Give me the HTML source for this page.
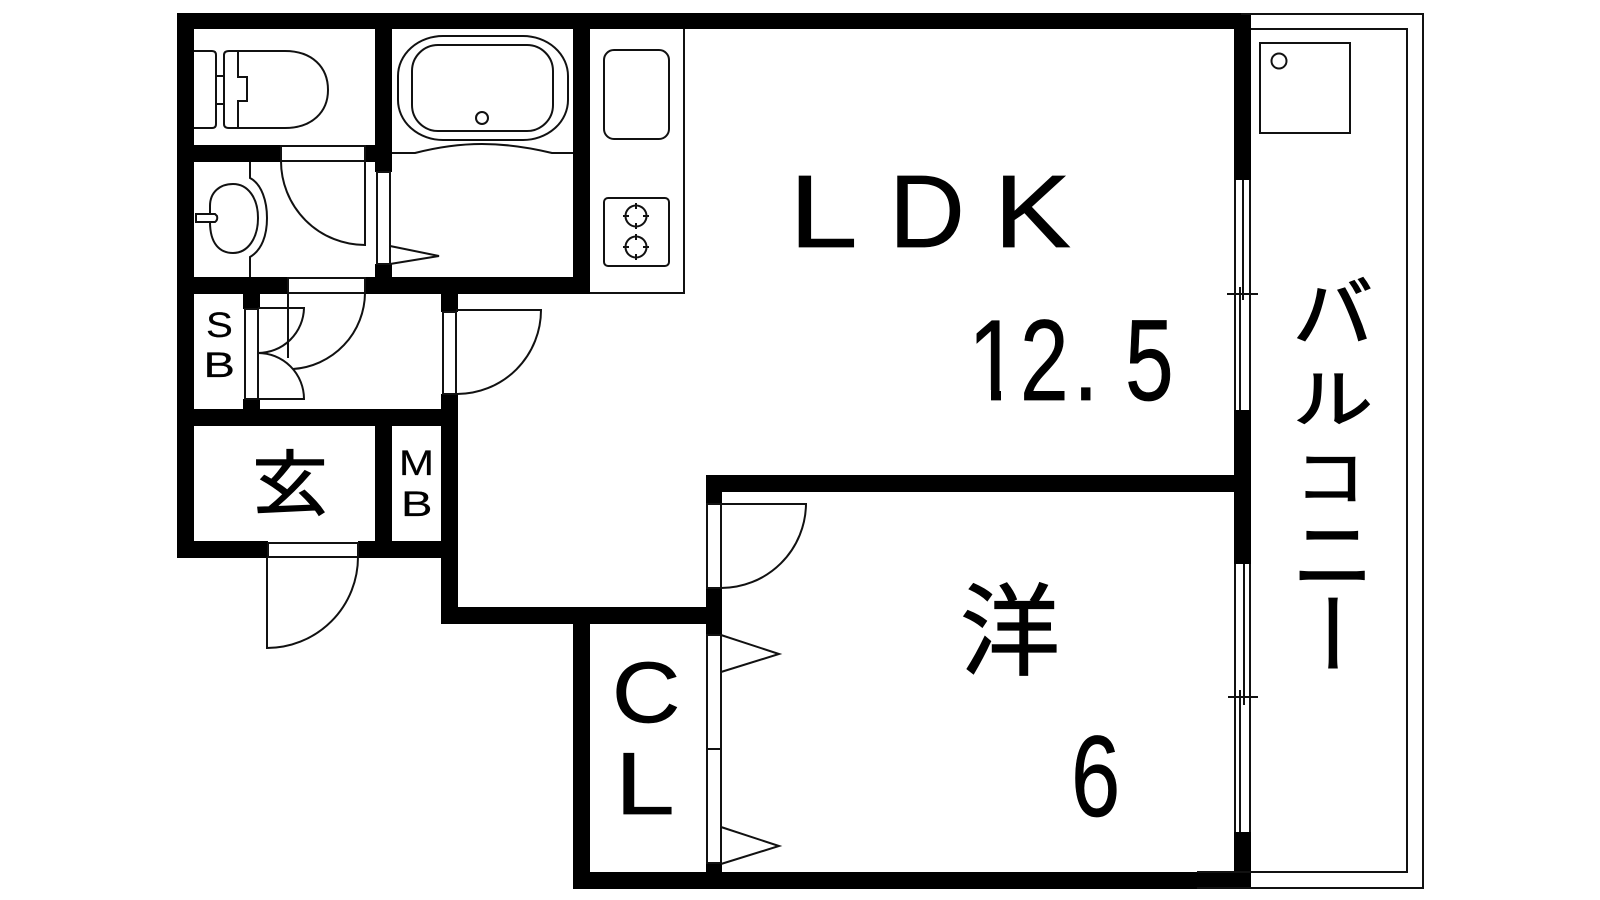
<!DOCTYPE html>
<html><head><meta charset="utf-8"><style>
html,body{margin:0;padding:0;background:#fff;width:1600px;height:900px;overflow:hidden}
svg{display:block}
.l{fill:none;stroke:#111;stroke-width:2}
.t{font-family:"Liberation Sans",sans-serif;fill:#000;stroke:#000;stroke-width:.7}
.j{font-family:"Liberation Sans","Noto Sans CJK JP",sans-serif;fill:#000;stroke:#000;stroke-width:1.2}
</style></head><body>
<svg width="1600" height="900" viewBox="0 0 1600 900" xmlns="http://www.w3.org/2000/svg">
<rect width="1600" height="900" fill="#fff"/>
<g fill="#000">
<rect x="177" y="13" width="1074" height="16"/>
<rect x="177" y="13" width="17" height="545"/>
<rect x="177" y="145" width="104" height="17"/>
<rect x="365" y="145" width="27" height="17"/>
<rect x="375" y="13" width="17" height="159"/>
<rect x="375" y="264" width="17" height="30"/>
<rect x="573" y="13" width="17" height="281"/>
<rect x="177" y="277" width="111" height="17"/>
<rect x="365" y="277" width="225" height="17"/>
<rect x="243" y="294" width="17" height="15"/>
<rect x="243" y="399" width="17" height="10"/>
<rect x="177" y="409" width="281" height="17"/>
<rect x="441" y="294" width="17" height="18"/>
<rect x="441" y="394" width="17" height="230"/>
<rect x="375" y="426" width="17" height="115"/>
<rect x="177" y="541" width="91" height="17"/>
<rect x="358" y="541" width="100" height="17"/>
<rect x="441" y="607" width="281" height="17"/>
<rect x="573" y="607" width="17" height="282"/>
<rect x="706" y="475" width="16" height="29"/>
<rect x="706" y="588" width="16" height="47"/>
<rect x="706" y="863" width="16" height="9"/>
<rect x="706" y="475" width="545" height="17"/>
<rect x="573" y="872" width="678" height="17"/>
<rect x="1234" y="13" width="17" height="167"/>
<rect x="1234" y="410" width="17" height="154"/>
<rect x="1234" y="832" width="17" height="57"/>
</g>
<g class="l">
<!-- balcony -->
<path d="M1241 14H1423V888H1197"/>
<path d="M1251 29H1407V872H1197"/>
<rect x="1260" y="43" width="90" height="90"/>
<circle cx="1279" cy="61" r="7.5"/>
<!-- windows -->
<path d="M1235 180V410M1250 180V410M1243 180V300M1240 290V410"/>
<path d="M1227 294H1258M1240 287V300"/>
<path d="M1235 564V832M1250 564V832M1244 564V705M1240 690V832"/>
<path d="M1228 697H1258"/>
<!-- kitchen -->
<path d="M684 29V293H590"/>
<rect x="604" y="50" width="65" height="89" rx="10"/>
<rect x="604" y="198" width="65" height="68" rx="4"/>
<circle cx="636" cy="216" r="10.5"/>
<circle cx="636" cy="247" r="10.5"/>
<path d="M636 203V209M636 223V229M623 216H629M643 216H649M636 234V240M636 254V260M623 247H629M643 247H649"/>
<!-- toilet -->
<path d="M194 51H212Q216 51 216 55V124Q216 128 212 128H194"/>
<path d="M216 76H224M216 104H224"/>
<path d="M238 51H229Q224 51 224 55V124Q224 128 229 128H238"/>
<path d="M238 128V101H247V77H238V51H285C312 51 328 67 328 90C328 112 312 128 285 128H238"/>
<!-- bath -->
<rect x="398" y="36" width="170" height="104" rx="45" ry="40"/>
<rect x="412" y="45" width="141" height="86" rx="26" ry="26"/>
<circle cx="482" cy="118" r="6"/>
<path d="M392 153H415Q450 144 482 144Q515 144 552 153H573"/>
<!-- wash -->
<path d="M250 162V178C262 184 267 202 267 218C267 235 262 250 250 257V277"/>
<path d="M210 214V206C210 192 220 184 233 184C248 184 258 198 258 218C258 238 248 253 233 253C220 253 210 244 210 222"/>
<path d="M215 214H196V222H215Q218 220 217 216Z"/>
<!-- door to wash -->
<rect x="281" y="146" width="84" height="15"/>
<path d="M365 161V245A84 84 0 0 1 281 161"/>
<rect x="377" y="172" width="13" height="92"/>
<path d="M390 246L439 256L390 264"/>
<!-- door entry to corridor -->
<rect x="288" y="278" width="77" height="15"/>
<path d="M288 294V308M288 309V358"/>
<path d="M365 293A77 77 0 0 1 293 369"/>
<!-- SB doors -->
<rect x="245" y="309" width="13" height="90"/>
<path d="M258 308H304A46 46 0 0 1 258 353A46 46 0 0 1 304 399H258"/>
<!-- LDK door -->
<rect x="443" y="312" width="13" height="82"/>
<path d="M456 310H541A84 84 0 0 1 457 394"/>
<!-- front door -->
<rect x="268" y="543" width="90" height="14"/>
<path d="M267 557V648A91 91 0 0 0 358 557"/>
<!-- bedroom door -->
<rect x="707" y="504" width="14" height="84"/>
<path d="M721 504H806A85 85 0 0 1 721 588"/>
<!-- closet -->
<rect x="707" y="635" width="14" height="228"/>
<path d="M707 749H721"/>
<path d="M721 635L779 654L721 672"/>
<path d="M721 827L779 846L721 864"/>
</g>
<!-- text -->
<g class="t" font-size="103">
<text transform="translate(789,247) scale(1.2,1)">L</text>
<text transform="translate(889,247) scale(1.02,1)">D</text>
<text transform="translate(994,247) scale(1.12,1)">K</text>
</g>
<g class="t" font-size="115">
<text transform="translate(968,400) scale(.8,1)">1</text>
<text transform="translate(1020,400) scale(.76,1)">2</text>
<text transform="translate(1073,400) scale(.8,1)">.</text>
<text transform="translate(1125,400) scale(.76,1)">5</text>
<text transform="translate(1071,816) scale(.77,1)">6</text>
</g>
<rect x="968" y="390" width="23" height="12" fill="#fff"/>
<rect x="1001" y="390" width="16" height="12" fill="#fff"/>
<g class="t" font-size="35" style="stroke-width:.2">
<text transform="translate(206,337) scale(1.15,1)">S</text>
<text transform="translate(203.5,377) scale(1.35,1)">B</text>
<text transform="translate(399,475) scale(1.2,1)">M</text>
<text transform="translate(401,516) scale(1.35,1)">B</text>
</g>
<text class="t" font-size="86" transform="translate(612,722) scale(1.1,1)">C</text>
<text class="t" font-size="88" transform="translate(615,814) scale(1.22,1)">L</text>
<text class="j" font-size="100" x="960" y="667">洋</text>
<text class="j" font-size="76" transform="translate(252,509) scale(1,.93)">玄</text>
<g class="j" font-size="80" style="stroke-width:1.6">
<text transform="translate(1293,340) scale(1,.95)">バ</text>
<text transform="translate(1293,422) scale(1,.8)">ル</text>
<text transform="translate(1295,500) scale(.88,.78)">コ</text>
<text x="1293" y="584">ニ</text>
<text style="writing-mode:vertical-rl" transform="translate(1327,590) scale(1,1.1)" x="0" y="0">ー</text>
</g>
</svg>
</body></html>
